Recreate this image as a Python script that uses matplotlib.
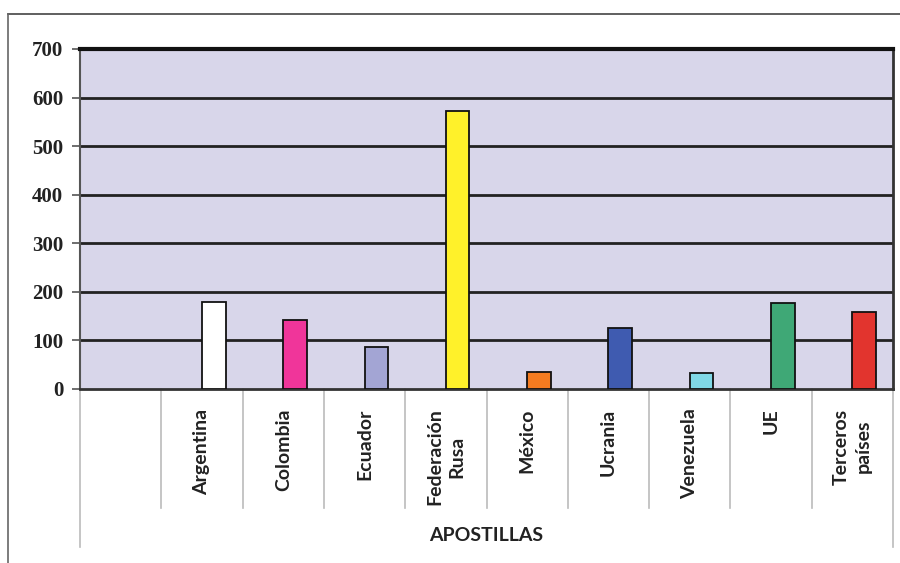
import matplotlib
matplotlib.use("Agg")
import matplotlib.pyplot as plt
from matplotlib.lines import Line2D

# data
countries = ['', 'Argentina', 'Colombia', 'Ecuador', 'Federación\nRusa', 'México',
             'Ucrania', 'Venezuela', 'UE', 'Terceros\npaíses']
values = [0, 180, 142, 87, 572, 36, 126, 32, 178, 159]
colors = ['none', '#ffffff', '#f0359a', '#a3a5d4', '#fff12a', '#f47b20',
          '#3f5bb0', '#80d8e6', '#3fa876', '#e2342e']
yticks = [0, 100, 200, 300, 400, 500, 600, 700]

fig = plt.figure(figsize=(9, 5.63), dpi=100)
ax = fig.add_axes([80/900, 1-389/563, 813/900, 340/563])
ax.set_facecolor('#d8d6ea')

xs = list(range(len(countries)))
ax.bar(xs[1:], values[1:], width=0.29, align='edge', color=colors[1:],
       edgecolor='#111111', linewidth=1.3, zorder=3)

ax.set_xlim(-0.5, len(countries) - 0.5)
ax.set_ylim(0, 700)
ax.set_yticks(yticks)
ax.set_yticklabels([str(t) for t in yticks], fontfamily='Liberation Serif',
                   fontweight='bold', fontsize=15, color='#222222')
ax.tick_params(axis='y', length=6, width=1.2, color='#555555', pad=6)

ax.set_xticks(xs)
ax.set_xticklabels(countries, rotation=90, fontfamily='Lato', fontweight='bold',
                   fontsize=14, color='#222222', va='top', ha='center',
                   multialignment='center', linespacing=1.4)
ax.tick_params(axis='x', length=0, pad=14)

# horizontal gridlines
for t in yticks[1:-1]:
    ax.axhline(t, color='#222222', linewidth=2, zorder=1)

ax.spines['top'].set_linewidth(3)
ax.spines['top'].set_color('#111111')
ax.spines['right'].set_linewidth(2)
ax.spines['right'].set_color('#333333')
ax.spines['left'].set_linewidth(1.5)
ax.spines['left'].set_color('#555555')
ax.spines['bottom'].set_linewidth(2)
ax.spines['bottom'].set_color('#333333')

# category separators below the axis
trans = ax.get_xaxis_transform()
for i in range(len(countries) - 1):
    ax.plot([i + 0.5, i + 0.5], [0, -0.35], transform=trans, color='#bbbbbb',
            linewidth=1.2, clip_on=False)
for b in [-0.5, len(countries) - 0.5]:
    ax.plot([b, b], [0, -0.465], transform=trans, color='#bbbbbb',
            linewidth=1.2, clip_on=False)

ax.text(0.5, -0.43, 'APOSTILLAS', transform=ax.transAxes, ha='center', va='center',
        fontfamily='Lato', fontweight='bold', fontsize=14, color='#222222')

# outer frame of the picture
fig.add_artist(Line2D([8/900, 1], [1-14/563, 1-14/563], color='#444444', linewidth=1.2))
fig.add_artist(Line2D([8/900, 8/900], [0, 1-14/563], color='#666666', linewidth=1.2))

fig.savefig('out.png', dpi=100, facecolor='white')
